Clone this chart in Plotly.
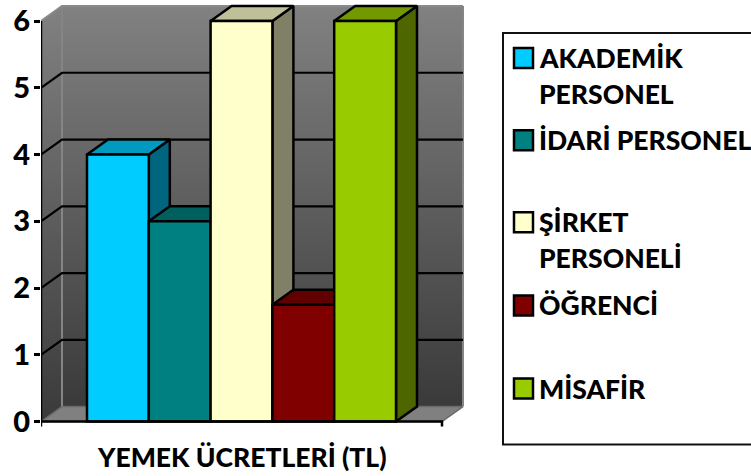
import plotly.graph_objects as go

W_PX, H_PX = 751, 476
FONT = "Lato"
K = 421 / 416   # vertical correction measured against the returned picture

# ---- data -------------------------------------------------------
series = ["AKADEMİK PERSONEL", "İDARİ PERSONEL", "ŞİRKET PERSONELİ", "ÖĞRENCİ", "MİSAFİR"]
values = [4, 3, 6, 1.75, 6]
front_colors = ["#00CCFF", "#008080", "#FFFFCC", "#800000", "#99CC00"]
top_colors = ["#0099BF", "#006060", "#BFBF99", "#600000", "#739900"]
side_colors = ["#006680", "#004040", "#808066", "#400000", "#4D6600"]
y_ticks = [0, 1, 2, 3, 4, 5, 6]
axis_title = "YEMEK ÜCRETLERİ (TL)"
legend_lines = [["AKADEMİK", "PERSONEL"], ["İDARİ PERSONEL"], ["ŞİRKET", "PERSONELİ"], ["ÖĞRENCİ"], ["MİSAFİR"]]
legend_centres = [58, 140, 222, 305, 388]

# ---- geometry of the pseudo-3D frame ----------------------------
X0_PX, X1_PX, Y0_PX, Y6_PX = 41, 442, 421 * K, 21 * K
UNIT_X = 61.8                       # px per bar width
UNIT_Y = (Y0_PX - Y6_PX) / 6        # px per value
DX, DY = 21 / UNIT_X, 15 * K / UNIT_Y   # depth offset in data units
SPAN = (X1_PX - X0_PX) / UNIT_X
GAP = (87 - X0_PX) / UNIT_X
DOM_RIGHT, DOM_BOTTOM = 470, 432 * K
x_range = [0, (DOM_RIGHT - X0_PX) / UNIT_X]
y_range = [-(DOM_BOTTOM - Y0_PX) / UNIT_Y, Y0_PX / UNIT_Y]
TOP = max(y_ticks)
grad = dict(type="vertical", colorscale=[[0, "#3a3a3a"], [1, "#818181"]])


def py(p):
    return (H_PX - p * K) / H_PX


def poly(xs, ys, **kw):
    return go.Scatter(x=xs, y=ys, mode="lines", hoverinfo="skip", showlegend=False, **kw)


fig = go.Figure()
fig.add_trace(poly([DX, SPAN + DX, SPAN + DX, DX, DX], [DY, DY, TOP + DY, TOP + DY, DY],
                   fill="toself", fillgradient=grad, line=dict(width=0)))
fig.add_trace(poly([0, DX, DX, 0, 0], [0, DY, TOP + DY, TOP, 0],
                   fill="toself", fillgradient=grad, line=dict(width=0)))
fig.add_trace(poly([0, DX, SPAN + DX, SPAN, 0], [0, DY, DY, 0, 0],
                   fill="toself", fillcolor="#808080", line=dict(color="#6a6a6a", width=1.5)))
fig.add_trace(poly([0, DX, SPAN + DX], [TOP, TOP + DY, TOP + DY], line=dict(color="#8a8a8a", width=2), cliponaxis=False))
fig.add_trace(poly([DX, DX], [DY, TOP + DY], line=dict(color="#858585", width=2)))
fig.add_trace(poly([SPAN + DX, SPAN + DX], [DY, TOP + DY], line=dict(color="#858585", width=2)))
for v in y_ticks[1:-1]:
    fig.add_trace(poly([0, DX, SPAN + DX], [v, v + DY, v + DY], line=dict(color="black", width=2.2)))

for i, v in enumerate(values):
    xl, xr = GAP + i, GAP + i + 1
    fig.add_trace(poly([xr, xr + DX, xr + DX, xr, xr], [0, DY, v + DY, v, 0], fill="toself",
                       fillcolor=side_colors[i], line=dict(color="black", width=2.5)))
    fig.add_trace(poly([xl, xl + DX, xr + DX, xr, xl], [v, v + DY, v + DY, v, v], fill="toself",
                       fillcolor=top_colors[i], line=dict(color="black", width=2.5)))

for i, v in enumerate(values):
    fig.add_trace(go.Bar(x=[GAP + i + 0.5], y=[v], width=[1], name=series[i], xaxis="x2", yaxis="y2",
                         marker=dict(color=front_colors[i], line=dict(color="black", width=2.5)),
                         showlegend=False, hoverinfo="skip"))

fig.add_trace(poly([0, 0, SPAN, SPAN], [-5 / UNIT_Y, 0, 0, -5 / UNIT_Y], xaxis="x2", yaxis="y2",
                   line=dict(color="black", width=2.5), cliponaxis=False))
fig.add_trace(poly([0, 0], [0, TOP], xaxis="x2", yaxis="y2", line=dict(color="black", width=2.5), cliponaxis=False))

x_dom = [X0_PX / W_PX, DOM_RIGHT / W_PX]
y_dom = [(H_PX - DOM_BOTTOM) / H_PX, 1]
fig.update_layout(
    width=W_PX, height=H_PX, margin=dict(l=0, r=0, t=0, b=0, pad=0),
    paper_bgcolor="white", plot_bgcolor="white", showlegend=False, barmode="overlay",
    font=dict(family=FONT, color="black"),
    xaxis=dict(domain=x_dom, range=x_range, visible=False, fixedrange=True),
    yaxis=dict(domain=y_dom, range=y_range, tickvals=y_ticks, ticks="outside", ticklen=6, tickwidth=2.5,
               tickcolor="black", showgrid=False, zeroline=False, showline=False, fixedrange=True,
               ticklabelstandoff=-2,
               tickfont=dict(family=FONT, size=29, weight=900, color="black")),
    xaxis2=dict(domain=x_dom, range=x_range, visible=False, overlaying="x", anchor="y2", fixedrange=True),
    yaxis2=dict(domain=y_dom, range=y_range, visible=False, overlaying="y", anchor="x2", fixedrange=True),
)

fig.add_annotation(x=SPAN / 2, xref="x", y=py(456), yref="paper", text=axis_title, showarrow=False,
                   xanchor="center", yanchor="middle", font=dict(family=FONT, size=26.5, weight=900, color="black"))

fig.add_shape(type="rect", xref="paper", yref="paper", x0=503 / W_PX, x1=780 / W_PX,
              y0=py(444), y1=py(33), line=dict(color="#111111", width=2), fillcolor="white", layer="below")
for i, lines in enumerate(legend_lines):
    c = legend_centres[i]
    fig.add_shape(type="rect", xref="paper", yref="paper", x0=514 / W_PX, x1=533 / W_PX,
                  y0=py(c + 10), y1=py(c - 10), line=dict(color="black", width=2.5), fillcolor=front_colors[i])
    for k, text in enumerate(lines):
        fig.add_annotation(x=537 / W_PX, xref="paper", y=py(c + 36 * k), yref="paper", text=text,
                           showarrow=False, xanchor="left", yanchor="middle",
                           font=dict(family=FONT, size=26.5, weight=900, color="black"))

POST = ("document.documentElement.style.margin='0';document.documentElement.style.overflow='hidden';"
        "document.body.style.margin='0';document.body.style.overflow='hidden';")
fig.write_html("out.html", config=dict(displayModeBar=False), post_script=POST)
